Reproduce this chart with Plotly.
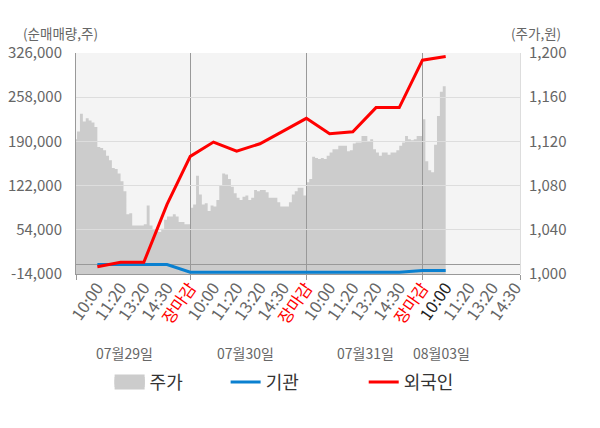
import plotly.graph_objects as go

# ---------------- data ----------------
x_labels = ["10:00", "11:20", "13:20", "14:30", "장마감",
            "10:00", "11:20", "13:20", "14:30", "장마감",
            "10:00", "11:20", "13:20", "14:30", "장마감",
            "10:00", "11:20", "13:20", "14:30"]
x_label_pos = [1, 2, 3, 4, 5, 6, 7, 8, 9, 10, 11, 12, 13, 14, 15, 16, 17, 18, 19]

flow_pos = [1, 2, 3, 4, 5, 6, 7, 8, 9, 10, 11, 12, 13, 14, 15, 16]
foreign = [-2800, 4000, 4000, 93000, 167000, 189000, 175000, 186400, 205900,
           225500, 201800, 204900, 242000, 242000, 315000, 320700]
institution = [500, 500, 500, 500, -11300, -11400, -11400, -11400, -11400,
               -11400, -11400, -11400, -11400, -11400, -8700, -8500]

price_day1 = [1122, 1129, 1145, 1138, 1141, 1139, 1137, 1133, 1115, 1114,
              1112, 1107, 1103, 1096, 1095, 1091, 1084, 1075, 1054, 1055,
              1044, 1044, 1044, 1044, 1045, 1062, 1044, 1040, 1039, 1038,
              1041, 1049, 1052, 1052, 1054, 1052, 1047, 1047, 1045, 1045]
price_day2 = [1060, 1063, 1089, 1072, 1063, 1064, 1057, 1062, 1061, 1067,
              1080, 1091, 1090, 1086, 1079, 1073, 1069, 1067, 1070, 1071,
              1067, 1069, 1076, 1075, 1076, 1076, 1074, 1069, 1069, 1069,
              1065, 1061, 1061, 1061, 1065, 1072, 1075, 1078, 1078, 1071]
price_day3 = [1083, 1086, 1106, 1105, 1104, 1105, 1104, 1107, 1110, 1113,
              1113, 1116, 1116, 1116, 1111, 1112, 1118, 1119, 1119, 1125,
              1125, 1120, 1122, 1113, 1110, 1107, 1110, 1110, 1108, 1110,
              1110, 1112, 1116, 1119, 1125, 1122, 1121, 1122, 1125, 1125]
price_day4 = [1140, 1102, 1094, 1092, 1117, 1143, 1165, 1170, 1176]

date_labels = ["07월29일", "07월30일", "07월31일", "08월03일"]
date_label_pos = [2.17, 7.36, 12.53, 15.8]

left_ticks = [-14000, 54000, 122000, 190000, 258000, 326000]
left_text = ["-14,000", "54,000", "122,000", "190,000", "258,000", "326,000"]
right_ticks = [1000, 1040, 1080, 1120, 1160, 1200]
right_text = ["1,000", "1,040", "1,080", "1,120", "1,160", "1,200"]

# ---------------- build ----------------
DAY_LEN = 5
STEP = 0.125
price_x, price_y = [], []
for d, day in enumerate([price_day1, price_day2, price_day3, price_day4]):
    for k, v in enumerate(day):
        price_x.append(d * DAY_LEN + k * STEP)
        price_y.append(v)

x_range = [0.08, 19.2]
FONT = "Noto Sans CJK KR"
GRAY = "#666666"
AREA = "#cccccc"


def color_label(t, i):
    if t == "장마감":
        return '<span style="color:#ff0000">' + t + '</span>'
    if i == 15:
        return '<span style="color:#222222">' + t + '</span>'
    return t


tick_text = [color_label(t, i) for i, t in enumerate(x_labels)]

fig = go.Figure()
fig.add_trace(go.Scatter(
    x=price_x, y=price_y, mode="lines", xaxis="x", yaxis="y",
    line=dict(width=0, shape="hv", color=AREA),
    fill="tozeroy", fillcolor=AREA, showlegend=False, hoverinfo="skip"))
# legend swatch for the price area (three stacked 10px strokes -> 15px box)
fig.add_trace(go.Scatter(
    x=[None], y=[None], mode="lines", name="주가", xaxis="x2", yaxis="y2",
    line=dict(color=AREA, width=10), legend="legend"))
fig.add_trace(go.Scatter(
    x=[None], y=[None], mode="lines", name="\u00a0", xaxis="x2", yaxis="y2",
    line=dict(color=AREA, width=10), legend="legend4"))
fig.add_trace(go.Scatter(
    x=[None], y=[None], mode="lines", name="\u00a0", xaxis="x2", yaxis="y2",
    line=dict(color=AREA, width=10), legend="legend5"))
fig.add_trace(go.Scatter(
    x=flow_pos, y=institution, mode="lines", name="기관", xaxis="x2", yaxis="y2",
    line=dict(color="#0a80d0", width=3), legend="legend2"))
fig.add_trace(go.Scatter(
    x=flow_pos, y=foreign, mode="lines", name="외국인", xaxis="x2", yaxis="y2",
    line=dict(color="#ff0000", width=3), legend="legend3"))

annotations = []
for t, p in zip(date_labels, date_label_pos):
    annotations.append(dict(text=t, x=p, xref="x2", y=-0.357, yref="paper",
                            showarrow=False, xanchor="center", yanchor="middle",
                            font=dict(size=14, color=GRAY, family=FONT)))
annotations.append(dict(text="(순매매량,주)", x=-0.034, xref="paper", y=1.09,
                        yref="paper", showarrow=False, xanchor="center",
                        yanchor="middle", font=dict(size=13.5, color=GRAY, family=FONT)))
annotations.append(dict(text="(주가,원)", x=1.035, xref="paper", y=1.09,
                        yref="paper", showarrow=False, xanchor="center",
                        yanchor="middle", font=dict(size=13.5, color=GRAY, family=FONT)))

legend_style = dict(orientation="h", xanchor="left", yanchor="middle",
                    font=dict(size=18, color="#333333", family=FONT),
                    bgcolor="rgba(0,0,0,0)")
LEG_Y = -0.49
LEG_DY = 2.5 / 221

fig.update_layout(
    width=600, height=428,
    margin=dict(l=68, r=88, t=45, b=162, autoexpand=False),
    paper_bgcolor="white", plot_bgcolor="rgba(0,0,0,0)",
    font=dict(family=FONT, size=14, color=GRAY),
    shapes=[dict(type="rect", xref="paper", yref="paper", x0=0, x1=1, y0=0, y1=1,
                 fillcolor="#f4f4f4", line=dict(width=0), layer="below")],
    xaxis=dict(domain=[0, 1], anchor="y", range=x_range, tickmode="array",
               tickvals=x_label_pos, ticktext=tick_text, tickangle=-55,
               tickfont=dict(size=16.5, color=GRAY, family=FONT), ticks="",
               showgrid=False, zeroline=False, showline=False, automargin=False),
    yaxis=dict(domain=[0, 1], anchor="x", side="right", range=[1000, 1200],
               tickmode="array", tickvals=right_ticks, ticktext=right_text,
               showgrid=False, zeroline=False, showline=True, linecolor="#dddddd",
               ticks="", ticklabelstandoff=5, automargin=False,
               tickfont=dict(size=15, color=GRAY, family=FONT)),
    xaxis2=dict(domain=[0, 1], anchor="y2", range=x_range, tickmode="array",
                tickvals=[x_range[0], 5, 10, 15, x_range[1]], showticklabels=False,
                ticks="outside", ticklen=5, tickcolor="#999999",
                showgrid=True, gridcolor="#999999", zeroline=False,
                showline=True, linecolor="#999999", automargin=False),
    yaxis2=dict(domain=[0, 1], anchor="x2", side="left", range=[-14000, 326000],
                tickmode="array", tickvals=left_ticks, ticktext=left_text,
                showgrid=True, gridcolor="#dddddd", zeroline=True,
                zerolinecolor="#999999", zerolinewidth=1, automargin=False,
                showline=True, linecolor="#999999", ticks="", ticklabelstandoff=10,
                tickfont=dict(size=15, color=GRAY, family=FONT)),
    legend=dict(x=0.0757, y=LEG_Y, **legend_style),
    legend4=dict(x=0.0757, y=LEG_Y + LEG_DY, **legend_style),
    legend5=dict(x=0.0757, y=LEG_Y - LEG_DY, **legend_style),
    legend2=dict(x=0.337, y=LEG_Y, **legend_style),
    legend3=dict(x=0.648, y=LEG_Y, **legend_style),
    annotations=annotations,
)

fig.write_html("out.html")
